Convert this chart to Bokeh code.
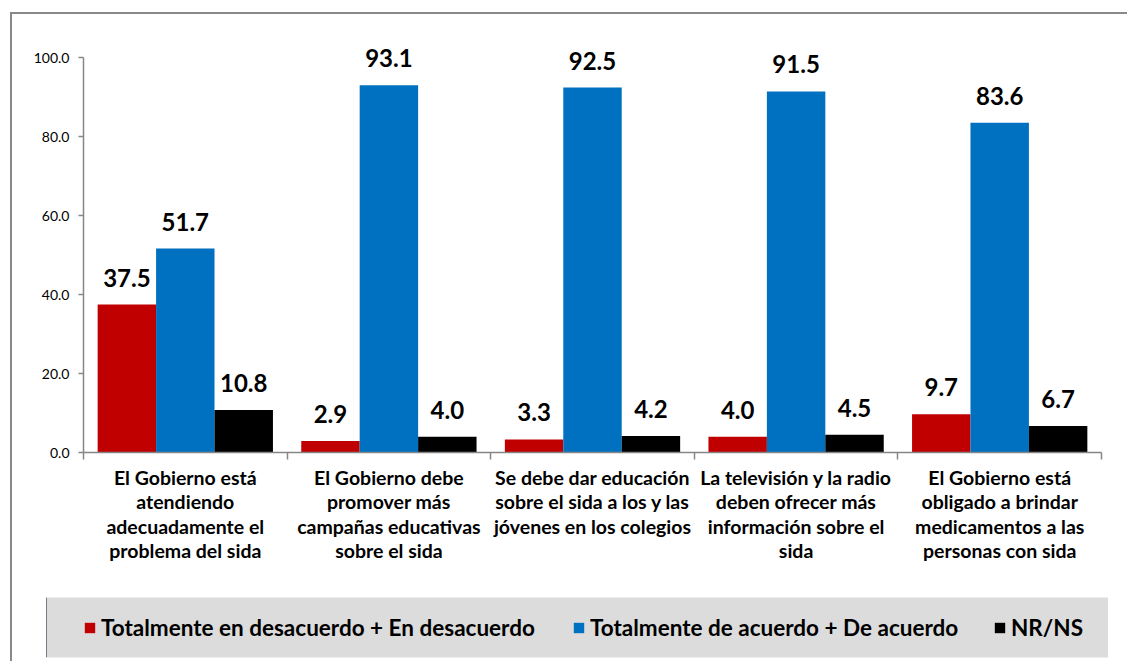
from bokeh.plotting import figure
from bokeh.layouts import column, row
from bokeh.models import (Range1d, FixedTicker, LinearAxis, ColumnDataSource, LabelSet,
                          Legend, LegendItem, NumeralTickFormatter)
from bokeh.core.properties import value
from bokeh.embed import file_html
from bokeh.resources import INLINE

# ---------------- data ----------------
categories = [
    "El Gobierno está\natendiendo\nadecuadamente el\nproblema del sida",
    "El Gobierno debe\npromover más\ncampañas educativas\nsobre el sida",
    "Se debe dar educación\nsobre el sida a los y las\njóvenes en los colegios",
    "La televisión y la radio\ndeben ofrecer más\ninformación sobre el\nsida",
    "El Gobierno está\nobligado a brindar\nmedicamentos a las\npersonas con sida",
]
series_names = [
    "Totalmente en desacuerdo + En desacuerdo",
    "Totalmente de acuerdo + De acuerdo",
    "NR/NS",
]
desacuerdo = [37.5, 2.9, 3.3, 4.0, 9.7]
acuerdo = [51.7, 93.1, 92.5, 91.5, 83.6]
nr_ns = [10.8, 4.0, 4.2, 4.5, 6.7]
y_ticks = [0, 20, 40, 60, 80, 100]

series_values = [desacuerdo, acuerdo, nr_ns]
colors = ["#C00000", "#0070C0", "#000000"]

FONT = "Lato"
AXIS_GRAY = "#868686"

# ---------------- main chart ----------------
p = figure(width=1117, height=583, output_backend="svg", toolbar_location=None,
           x_range=Range1d(0, len(categories)), y_range=Range1d(0, 110),
           x_axis_type=None, y_axis_type=None,
           min_border_left=71, min_border_right=28, min_border_top=4, min_border_bottom=145)
p.outline_line_color = None
p.background_fill_color = "white"
p.border_fill_color = "white"

bw = 0.287
renderers = []
for k, (vals, col) in enumerate(zip(series_values, colors)):
    xs = [i + 0.5 + (k - 1) * bw for i in range(len(categories))]
    src = ColumnDataSource(dict(x=xs, top=vals, label=["%.1f" % v for v in vals]))
    r = p.vbar(x="x", top="top", bottom=0, width=bw, source=src,
               fill_color=col, line_color=None)
    renderers.append(r)
    p.add_layout(LabelSet(x="x", y="top", text="label", source=src,
                          text_align="center", text_baseline="alphabetic", y_offset=18,
                          text_font=value(FONT), text_font_style="bold",
                          text_font_size="24px", text_color="black"))

yaxis = LinearAxis(ticker=FixedTicker(ticks=y_ticks, minor_ticks=[]),
                   formatter=NumeralTickFormatter(format="0.0"), bounds=(0, 100),
                   axis_line_color=AXIS_GRAY, axis_line_width=1.5,
                   major_tick_line_color=AXIS_GRAY, major_tick_line_width=1.5,
                   major_tick_out=5, major_tick_in=0,
                   minor_tick_out=0, minor_tick_in=0,
                   major_label_standoff=9,
                   major_label_text_font=FONT, major_label_text_font_size="14px",
                   major_label_text_color="black")
p.add_layout(yaxis, "left")

centers = [i + 0.5 for i in range(len(categories))]
xaxis = LinearAxis(ticker=FixedTicker(ticks=centers, minor_ticks=list(range(len(categories) + 1))),
                   major_label_overrides={c: lab for c, lab in zip(centers, categories)},
                   axis_line_color=AXIS_GRAY, axis_line_width=1.5,
                   major_tick_out=0, major_tick_in=0,
                   minor_tick_line_color=AXIS_GRAY, minor_tick_line_width=1.5,
                   minor_tick_out=7, minor_tick_in=0,
                   major_label_standoff=6,
                   major_label_text_font=FONT, major_label_text_font_style="bold",
                   major_label_text_font_size="19.5px", major_label_text_color="black",
                   major_label_text_line_height=1.07)
p.add_layout(xaxis, "below")

# ---------------- legend strip ----------------
lg = figure(width=1096, height=66, output_backend="svg", toolbar_location=None,
            x_range=Range1d(0, 1), y_range=Range1d(0, 1),
            x_axis_type=None, y_axis_type=None,
            min_border_left=34, min_border_right=0, min_border_top=0, min_border_bottom=6)
lg.outline_line_color = None
lg.background_fill_color = "#DCDCDC"
lg.border_fill_color = "white"

leg_x = [37, 526, 947]
for name, col, lx in zip(series_names, colors, leg_x):
    # legend swatch renderer (kept outside the visible range)
    swatch = lg.vbar(x=[-1], top=[1], width=0.1, fill_color=col, line_color=None)
    leg = Legend(items=[LegendItem(label=name, renderers=[swatch])],
                 location=(lx, 15), orientation="horizontal",
                 background_fill_alpha=0, border_line_color=None,
                 padding=0, margin=0, spacing=0,
                 glyph_width=13, glyph_height=13, label_standoff=5,
                 label_height=30,
                 label_text_font=FONT, label_text_font_style="bold",
                 label_text_font_size="22.5px", label_text_color="black")
    lg.add_layout(leg, "center")

layout = column(p, row(lg), spacing=0, margin=(14, 0, 0, 12),
                styles={"box-shadow": "-2px -2px 0 0 #898989"})

open("out.html", "w").write(file_html(layout, INLINE))
